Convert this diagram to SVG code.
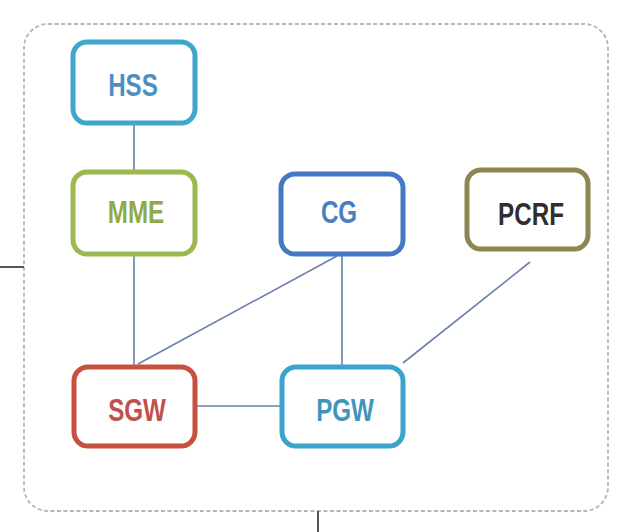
<svg xmlns="http://www.w3.org/2000/svg" width="638" height="532" viewBox="0 0 638 532">
<style>
.node rect{fill:#fff;stroke-width:5}
.node text{font-family:"Liberation Sans",Arial,sans-serif;font-size:31px;font-weight:bold;text-anchor:middle;dominant-baseline:central}
.conn line{stroke:#6a7fae;stroke-width:1.6}
</style>
<rect width="638" height="532" fill="#fff"/>
<g id="frame">
<rect x="24" y="24" width="584" height="487" rx="24" fill="none" stroke="#b3b6bd" stroke-width="1.8" stroke-dasharray="4 2.5"/>
<line x1="0" y1="267" x2="24" y2="267" stroke="#555" stroke-width="2"/>
<line x1="318" y1="511" x2="318" y2="532" stroke="#555" stroke-width="2"/>
</g>
<g id="connectors" class="conn">
<line x1="134" y1="123" x2="134" y2="170"/>
<line x1="134" y1="255" x2="134" y2="365"/>
<line x1="337" y1="256" x2="138" y2="364"/>
<line x1="342" y1="256" x2="342" y2="365"/>
<line x1="530" y1="262" x2="403" y2="363"/>
<line x1="196" y1="406" x2="280" y2="406"/>
</g>
<g id="HSS" class="node"><rect x="73" y="42" width="122" height="81" rx="14" stroke="#3fa6cc"/><text transform="translate(133,85) scale(0.78,1)" fill="#4d8fbf">HSS</text></g>
<g id="MME" class="node"><rect x="73" y="172" width="122" height="82" rx="14" stroke="#9cb84e"/><text transform="translate(136,212) scale(0.78,1)" fill="#8faa48">MME</text></g>
<g id="CG" class="node"><rect x="281" y="174" width="122" height="80" rx="14" stroke="#4279c2"/><text transform="translate(339,212) scale(0.78,1)" fill="#4a7ec0">CG</text></g>
<g id="PCRF" class="node"><rect x="467" y="170" width="121" height="79" rx="14" stroke="#8e8552"/><text transform="translate(531,214) scale(0.78,1)" fill="#2f2f2f">PCRF</text></g>
<g id="SGW" class="node"><rect x="74" y="367" width="121" height="79" rx="14" stroke="#c9503f"/><text transform="translate(137,410) scale(0.78,1)" fill="#c0504a">SGW</text></g>
<g id="PGW" class="node"><rect x="282" y="367" width="121" height="79" rx="14" stroke="#3aa4cc"/><text transform="translate(345,410) scale(0.78,1)" fill="#3f95bd">PGW</text></g>
</svg>
